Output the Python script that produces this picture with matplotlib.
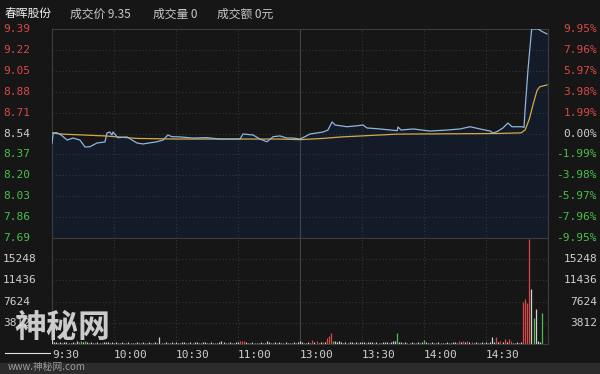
import numpy as np
import matplotlib.pyplot as plt
from matplotlib.transforms import blended_transform_factory
from matplotlib.patches import Rectangle

plt.rcParams['font.family'] = ['Noto Sans CJK SC', 'DejaVu Sans']

# 分时数据 (分钟, 价格)
prev_close = 8.54
price_min = [0, 0.6, 2.4, 4.4, 7.3, 10.2, 13.5, 16, 18.4, 21.8, 25.6, 26.6, 28, 29, 29.5,
             31.9, 36.3, 41.1, 44, 50.8, 53.7, 56.1, 58, 62, 68.2, 75, 81.3, 91, 92.4,
             97.3, 100.6, 104, 107, 110.3, 113.7, 116.6, 120, 122.4, 124.8, 131.1, 133.5,
             135.5, 137, 142.7, 147.6, 150.5, 152.4, 158.7, 167, 167.4, 168.9, 174.7,
             182.9, 191.1, 197.4, 202.3, 207.1, 212, 213.4, 215.3, 218.2, 220.6, 222.6,
             227.4, 228.4, 228.9, 230.3, 231.3, 232.1, 235.2, 237.1, 239.5]
price = [8.46, 8.545, 8.546, 8.528, 8.487, 8.503, 8.487, 8.43, 8.433, 8.463, 8.471, 8.544,
         8.552, 8.528, 8.552, 8.506, 8.512, 8.463, 8.455, 8.473, 8.487, 8.528, 8.514, 8.512,
         8.503, 8.506, 8.495, 8.495, 8.536, 8.528, 8.495, 8.473, 8.514, 8.52, 8.503, 8.503,
         8.495, 8.514, 8.536, 8.552, 8.568, 8.634, 8.609, 8.595, 8.603, 8.609, 8.585, 8.577,
         8.563, 8.593, 8.568, 8.577, 8.56, 8.568, 8.577, 8.595, 8.577, 8.56, 8.544, 8.555,
         8.585, 8.625, 8.595, 8.595, 8.59, 8.731, 9.056, 9.244, 9.39, 9.39, 9.37, 9.35]

avg_min = [0, 5, 26, 41, 60, 110, 120, 131, 140, 167, 215, 227, 229, 231, 233, 234.7, 236, 239.5]
avg_price = [8.545, 8.535, 8.52, 8.50, 8.495, 8.495, 8.49, 8.50, 8.512, 8.535, 8.54, 8.545,
             8.57, 8.66, 8.79, 8.89, 8.92, 8.935]

# 成交量 (每分钟)
volume = [
    900, 350, 300, 250, 300, 200, 350, 300, 250, 200, 300, 250, 450, 400, 500, 350, 450, 300,
    250, 300, 200, 250, 300, 200, 250, 350, 400, 300, 250, 300,
    250, 300, 200, 250, 300, 200, 250, 300, 200, 250, 200, 300, 250, 200, 300, 250, 200, 350,
    250, 200, 300, 250, 1270, 250, 200, 300, 250, 200, 300, 250,
    300, 250, 200, 300, 350, 250, 200, 300, 250, 400, 300, 250, 200, 300, 350, 250, 200, 300,
    250, 200, 250, 300, 450, 300, 250, 200, 300, 250, 200, 300,
    300, 500, 550, 450, 300, 250, 200, 300, 250, 200, 250, 300, 200, 250, 450, 300, 250, 200,
    300, 250, 350, 200, 250, 300, 250, 200, 250, 300, 250, 350,
    500, 300, 250, 200, 300, 250, 700, 300, 450, 250, 300, 400, 300, 1030, 1510, 1940, 600,
    500, 300, 450, 350, 250, 300, 250, 400, 300, 250, 300, 250, 300,
    300, 350, 250, 300, 400, 300, 250, 300, 250, 200, 300, 350, 300, 250, 300, 450, 600, 1940,
    350, 300, 250, 300, 250, 200, 300, 250, 200, 300, 250, 300,
    720, 300, 250, 200, 350, 250, 200, 300, 250, 200, 250, 300, 200, 250, 300, 350, 250, 450,
    300, 500, 350, 450, 300, 400, 250, 300, 200, 250, 300, 250,
    300, 250, 400, 1270, 300, 1320, 400, 600, 300, 900, 350, 900, 500, 250, 200, 300, 250, 400,
    7600, 8100, 7300, 18900, 9800, 4700, 6350, 500, 400, 5600, 0, 0]
vol_up = [91, 92, 93, 126, 128, 131, 133, 134, 135, 197, 199, 201, 203, 215, 217, 219, 221,
          222, 228, 229, 230, 231]
vol_down = [13, 14, 16, 136, 167, 180, 233, 237]

price_ticks = [9.39, 9.22, 9.05, 8.88, 8.71, 8.54, 8.37, 8.20, 8.03, 7.86, 7.69]
pct_labels = ['9.95%', '7.96%', '5.97%', '3.98%', '1.99%', '0.00%',
              '-1.99%', '-3.98%', '-5.97%', '-7.96%', '-9.95%']
vol_ticks = [3812, 7624, 11436, 15248]
time_pos = [0, 30, 60, 90, 120, 150, 180, 210]
time_labels = ['9:30', '10:00', '10:30', '11:00', '13:00', '13:30', '14:00', '14:30']

W, H = 600, 374
BG = '#161616'
RED, GREEN, WHITE = '#d84848', '#48c048', '#d0d0d0'
GRID = '#353535'


def box(x0, y0, x1, y1):
    return [x0 / W, 1 - y1 / H, (x1 - x0) / W, (y1 - y0) / H]


fig = plt.figure(figsize=(6, 3.74), dpi=100, facecolor=BG)
ax = fig.add_axes(box(52, 29, 548, 238))
axv = fig.add_axes(box(52, 238, 548, 344), sharex=ax)

for a in (ax, axv):
    a.set_facecolor(BG)
    a.set_xticks([])
    a.set_yticks([])
    for s in a.spines.values():
        s.set_color('#3c3c3c')
        s.set_linewidth(0.8)
    for m in time_pos[1:]:
        if m == 120:
            a.axvline(m, color='#444444', lw=0.8, zorder=1)
        else:
            a.axvline(m, color=GRID, lw=0.8, ls=(0, (1, 2)), zorder=1)

ax.set_xlim(0, 240)
ax.set_ylim(7.69, 9.39)
axv.set_ylim(0, 19060)

# 价格面板
for t in price_ticks[1:-1]:
    ax.axhline(t, color=GRID, lw=0.8, ls=(0, (1, 2)), zorder=1)
ax.fill_between(price_min, price, 7.69, color='#131b29', zorder=0.5)
ax.plot(avg_min, avg_price, color='#d8a848', lw=0.9, zorder=3)
ax.plot(price_min, price, color='#8fb6dc', lw=0.9, zorder=4)

tr = blended_transform_factory(fig.transFigure, ax.transData)
for t, p in zip(price_ticks, pct_labels):
    if round(t, 2) > prev_close:
        c = RED
    elif round(t, 2) < prev_close:
        c = GREEN
    else:
        c = WHITE
    ax.text(3 / W, t, f'{t:.2f}', transform=tr, ha='left', va='center', color=c,
            fontsize=8, family='DejaVu Sans Mono')
    ax.text(597 / W, t, p, transform=tr, ha='right', va='center', color=c,
            fontsize=8, family='DejaVu Sans Mono')

# 成交量面板
for t in vol_ticks:
    axv.axhline(t, color=GRID, lw=0.8, ls=(0, (1, 2)), zorder=1)
vol_colors = []
for i in range(len(volume)):
    if i in vol_up:
        vol_colors.append(RED)
    elif i in vol_down:
        vol_colors.append(GREEN)
    else:
        vol_colors.append(WHITE)
axv.vlines(np.arange(len(volume)), 0, volume, colors=vol_colors, lw=0.9, zorder=3)

trv = blended_transform_factory(fig.transFigure, axv.transData)
for t in vol_ticks:
    axv.text(3 / W, t, str(t), transform=trv, ha='left', va='center', color=WHITE,
             fontsize=8, family='DejaVu Sans Mono')
    axv.text(597 / W, t, str(t), transform=trv, ha='right', va='center', color=WHITE,
             fontsize=8, family='DejaVu Sans Mono')

trt = blended_transform_factory(axv.transData, fig.transFigure)
for m, lab in zip(time_pos, time_labels):
    axv.text(m, 1 - 355 / H, lab, transform=trt, ha='left', va='center', color=WHITE,
             fontsize=8, family='DejaVu Sans Mono', clip_on=False)

# 顶部信息
fig.text(5 / W, 1 - 14 / H, '春晖股份', color='#f0f0f0', fontsize=8.5, va='center')
fig.text(70 / W, 1 - 14 / H, '成交价 9.35', color='#c8c8c8', fontsize=8.5, va='center')
fig.text(153 / W, 1 - 14 / H, '成交量 0', color='#c8c8c8', fontsize=8.5, va='center')
fig.text(217 / W, 1 - 14 / H, '成交额 0元', color='#c8c8c8', fontsize=8.5, va='center')

# 底部条与水印
fig.add_artist(Rectangle((0, 0), 1, 11 / H, transform=fig.transFigure, color='#2c2c2c', zorder=0))
fig.add_artist(plt.Line2D([5 / W, 50 / W], [1 - 353 / H] * 2, transform=fig.transFigure,
                          color='#e0e0e0', lw=0.8))
fig.text(14 / W, 1 - 328 / H, '神秘网', color='#e0e0e0', fontsize=23, fontweight='bold',
         va='center', alpha=0.9)
fig.text(8 / W, 1 - 367 / H, 'www.神秘网.com', color='#a8a8a8', fontsize=7, va='center',
         style='italic', alpha=0.9)

fig.savefig('out.png', dpi=100, facecolor=BG)
